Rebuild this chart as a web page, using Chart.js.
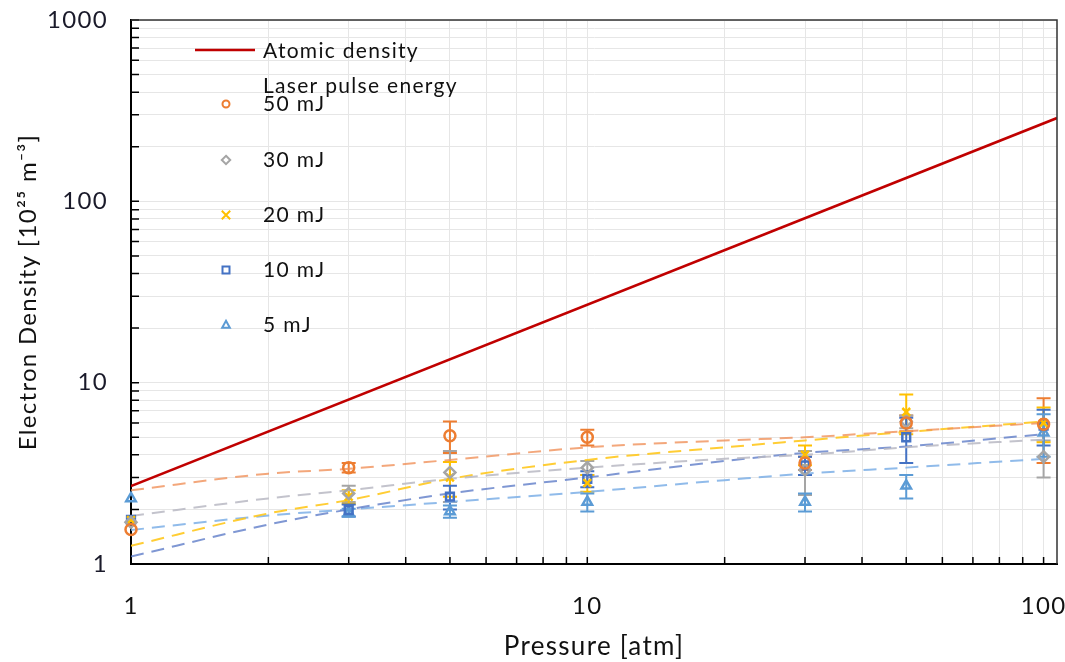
<!DOCTYPE html>
<html lang="en">
<head>
  <meta charset="UTF-8">
  <title>Electron density vs pressure</title>
  <script src="https://cdn.jsdelivr.net/npm/chart.js"></script>
  <style>
    html, body { margin: 0; padding: 0; background: #fff; }
    #wrap { width: 1065px; height: 662px; }
  </style>
</head>
<body>
  <div id="wrap"><canvas id="chart" width="1065" height="662"></canvas></div>

  <script>
    // Measured pressures and electron densities (10^25 m^-3)
    const pressures = [1, 3, 5, 10, 30, 50, 100];
    const ne50 = [1.55, 3.4, 5.1, 5.0, 3.6, 6.0, 5.9];
    const err50 = [0, 0.2, 1.0, 0.5, 0.3, 0.6, 2.3];
    const ne30 = [1.7, 2.45, 3.2, 3.4, 3.3, 6.1, 3.9];
    const err30 = [0, 0.25, 1.0, 0.3, 0.9, 0.5, 0.9];
    const ne20 = [1.75, 2.35, 3.0, 2.8, 4.0, 6.9, 6.0];
    const err20 = [0, 0.2, 0.65, 0.3, 0.5, 1.7, 1.3];
    const ne10 = [1.75, 1.98, 2.35, 2.95, 3.5, 5.0, 5.8];
    const err10 = [0, 0.15, 0.35, 0.3, 0.4, 1.4, 1.3];
    const ne5 = [2.3, 1.92, 1.95, 2.2, 2.2, 2.7, 5.3];
    const err5 = [0, 0.1, 0.15, 0.25, 0.25, 0.4, 1.4];

    // Dashed trend curves
    const fitPressures = [1, 2, 3, 5, 10, 20, 30, 50, 100];
    const fit50 = [2.55, 3.15, 3.35, 3.75, 4.4, 4.8, 5.0, 5.4, 6.0];
    const fit30 = [1.84, 2.3, 2.55, 2.95, 3.4, 3.8, 4.0, 4.4, 4.85];
    const fit20 = [1.26, 1.9, 2.25, 2.95, 3.75, 4.4, 4.8, 5.35, 6.1];
    const fit10 = [1.1, 1.65, 2.0, 2.45, 3.0, 3.7, 4.1, 4.45, 5.2];
    const fit5 = [1.54, 1.85, 2.0, 2.2, 2.5, 2.9, 3.15, 3.4, 3.8];

    // Atomic density line
    const atomicPressures = [1, 107];
    const atomicDensity = [2.69, 288];

    const xTickLabels = ['1', '10', '100'];
    const yTickLabels = ['1', '10', '100', '1000'];

    const FONT = 'Lato, "Open Sans", sans-serif';

    const series = [
      { label: '50 mJ', color: '#ED7D31', style: 'circle', vals: ne50, err: err50, fit: fit50, fitColor: 'rgba(240,145,90,0.8)' },
      { label: '30 mJ', color: '#A5A5A5', style: 'rectRot', vals: ne30, err: err30, fit: fit30, fitColor: 'rgba(185,185,195,0.85)' },
      { label: '20 mJ', color: '#FFC000', style: 'crossRot', vals: ne20, err: err20, fit: fit20, fitColor: 'rgba(255,200,30,0.9)' },
      { label: '10 mJ', color: '#4472C4', style: 'rect', vals: ne10, err: err10, fit: fit10, fitColor: 'rgba(95,125,200,0.8)' },
      { label: '5 mJ', color: '#5B9BD5', style: 'triangle', vals: ne5, err: err5, fit: fit5, fitColor: 'rgba(125,175,230,0.85)' }
    ];

    function pts(xs, ys) {
      return xs.map((x, i) => ({ x: x, y: ys[i] }));
    }

    // gridline positions 1..9 per decade
    function decadeTicks(lo, hi) {
      const out = [];
      for (let d = lo; d < hi; d *= 10) {
        for (let k = 1; k < 10; k++) out.push(k * d);
      }
      out.push(hi);
      return out;
    }

    const datasets = [];
    series.forEach(s => {
      datasets.push({
        label: s.label,
        data: pts(pressures, s.vals),
        errors: s.err,
        showLine: false,
        clip: false,
        pointStyle: s.style,
        pointRadius: 5.5,
        pointHoverRadius: 5.5,
        pointBorderWidth: 2.5,
        borderColor: s.color,
        backgroundColor: 'rgba(255,255,255,0)'
      });
    });
    series.forEach(s => {
      datasets.push({
        label: s.label + ' fit',
        data: pts(fitPressures, s.fit),
        borderColor: s.fitColor,
        borderWidth: 2,
        borderDash: [13, 8],
        pointRadius: 0,
        cubicInterpolationMode: 'monotone',
        fill: false
      });
    });
    datasets.push({
      label: 'Atomic density',
      data: pts(atomicPressures, atomicDensity),
      borderColor: '#C00000',
      borderWidth: 2.5,
      pointRadius: 0,
      fill: false
    });

    function drawMarker(ctx, style, x, y, r) {
      ctx.beginPath();
      if (style === 'circle') {
        ctx.arc(x, y, r, 0, Math.PI * 2);
      } else if (style === 'rect') {
        ctx.rect(x - r, y - r, 2 * r, 2 * r);
      } else if (style === 'rectRot') {
        ctx.moveTo(x, y - r * 1.2); ctx.lineTo(x + r * 1.2, y);
        ctx.lineTo(x, y + r * 1.2); ctx.lineTo(x - r * 1.2, y); ctx.closePath();
      } else if (style === 'crossRot') {
        ctx.moveTo(x - r * 1.2, y - r * 1.2); ctx.lineTo(x + r * 1.2, y + r * 1.2);
        ctx.moveTo(x + r * 1.2, y - r * 1.2); ctx.lineTo(x - r * 1.2, y + r * 1.2);
      } else if (style === 'triangle') {
        ctx.moveTo(x, y - r * 1.2); ctx.lineTo(x + r * 1.1, y + r * 0.8);
        ctx.lineTo(x - r * 1.1, y + r * 0.8); ctx.closePath();
      }
      ctx.stroke();
    }

    // wider letter spacing like the original rendering
    const spacing = {
      id: 'spacing',
      beforeInit(chart) { chart.ctx.letterSpacing = '1.3px'; },
      beforeDraw(chart) { chart.ctx.letterSpacing = '1.3px'; }
    };

    const errorBars = {
      id: 'errorBars',
      beforeDatasetsDraw(chart) {
        const ctx = chart.ctx;
        const xs = chart.scales.x, ys = chart.scales.y;
        ctx.save();
        chart.data.datasets.forEach(ds => {
          if (!ds.errors) return;
          ctx.strokeStyle = ds.borderColor;
          ctx.lineWidth = 2;
          ds.data.forEach((p, i) => {
            const e = ds.errors[i];
            if (!e) return;
            const px = xs.getPixelForValue(p.x);
            const top = ys.getPixelForValue(p.y + e);
            const bot = ys.getPixelForValue(Math.max(p.y - e, 0.01));
            ctx.beginPath();
            ctx.moveTo(px, top); ctx.lineTo(px, bot);
            ctx.moveTo(px - 7, top); ctx.lineTo(px + 7, top);
            ctx.moveTo(px - 7, bot); ctx.lineTo(px + 7, bot);
            ctx.stroke();
          });
        });
        ctx.restore();
      }
    };

    const frame = {
      id: 'frame',
      afterDraw(chart) {
        const ctx = chart.ctx;
        const a = chart.chartArea;
        const xs = chart.scales.x, ys = chart.scales.y;
        ctx.save();
        ctx.strokeStyle = '#000';
        // inward tick marks
        ctx.lineWidth = 1.5;
        ctx.beginPath();
        xs.ticks.forEach(t => {
          const px = xs.getPixelForValue(t.value);
          ctx.moveTo(px, a.bottom); ctx.lineTo(px, a.bottom - 7);
        });
        ys.ticks.forEach(t => {
          const py = ys.getPixelForValue(t.value);
          ctx.moveTo(a.left, py); ctx.lineTo(a.left + 8, py);
        });
        ctx.stroke();
        // top and right border
        ctx.strokeStyle = '#333';
        ctx.beginPath();
        ctx.moveTo(a.left, a.top); ctx.lineTo(a.right, a.top); ctx.lineTo(a.right, a.bottom);
        ctx.stroke();
        ctx.restore();
      }
    };

    const legendBox = {
      id: 'legendBox',
      afterDraw(chart) {
        const ctx = chart.ctx;
        ctx.save();
        ctx.font = '21px ' + FONT;
        ctx.fillStyle = '#111';
        ctx.textBaseline = 'middle';
        ctx.textAlign = 'left';
        // atomic density entry
        ctx.strokeStyle = '#C00000';
        ctx.lineWidth = 2.5;
        ctx.beginPath(); ctx.moveTo(195, 50); ctx.lineTo(255, 50); ctx.stroke();
        ctx.fillText('Atomic density', 263, 51);
        ctx.fillText('Laser pulse energy', 263, 86);
        const rows = [104, 160, 215, 270, 325];
        series.forEach((s, i) => {
          ctx.strokeStyle = s.color;
          ctx.lineWidth = 2;
          drawMarker(ctx, s.style, 226, rows[i], 3.5);
          ctx.fillText(s.label, 263, rows[i]);
        });
        ctx.restore();
      }
    };

    new Chart(document.getElementById('chart'), {
      type: 'line',
      data: { datasets: datasets },
      options: {
        responsive: false,
        animation: false,
        devicePixelRatio: 1,
        layout: { padding: { top: 20, right: 8, left: 0, bottom: 0 } },
        plugins: {
          legend: { display: false },
          tooltip: { enabled: false }
        },
        scales: {
          x: {
            type: 'logarithmic',
            min: 1,
            max: 107,
            afterBuildTicks: s => { s.ticks = decadeTicks(1, 100).map(v => ({ value: v })); },
            afterFit: s => { s.height = 98; s.paddingLeft = 0; s.paddingRight = 0; },
            grid: { color: '#e6e6e6', drawTicks: false },
            border: { color: '#000', width: 2 },
            ticks: {
              autoSkip: false,
              maxRotation: 0,
              padding: 28,
              color: '#111',
              font: { family: FONT, size: 24 },
              callback: v => xTickLabels.map(Number).includes(v) ? String(v) : ''
            },
            title: {
              display: true,
              text: 'Pressure [atm]',
              color: '#111',
              font: { family: FONT, size: 26 },
              padding: { top: 0, bottom: 0 }
            }
          },
          y: {
            type: 'logarithmic',
            min: 1,
            max: 1000,
            afterBuildTicks: s => { s.ticks = decadeTicks(1, 1000).map(v => ({ value: v })); },
            afterFit: s => { s.width = 131; s.paddingTop = 0; s.paddingBottom = 0; },
            grid: { color: '#e6e6e6', drawTicks: false },
            border: { color: '#000', width: 2 },
            ticks: {
              autoSkip: false,
              padding: 23,
              color: '#1a1a2a',
              font: { family: FONT, size: 24 },
              callback: v => yTickLabels.map(Number).includes(v) ? String(v) : ''
            },
            title: {
              display: true,
              text: 'Electron Density [10²⁵ m⁻³]',
              color: '#111',
              font: { family: FONT, size: 24 },
              padding: { top: 14, bottom: 0 }
            }
          }
        }
      },
      plugins: [spacing, errorBars, frame, legendBox]
    });
  </script>
</body>
</html>
